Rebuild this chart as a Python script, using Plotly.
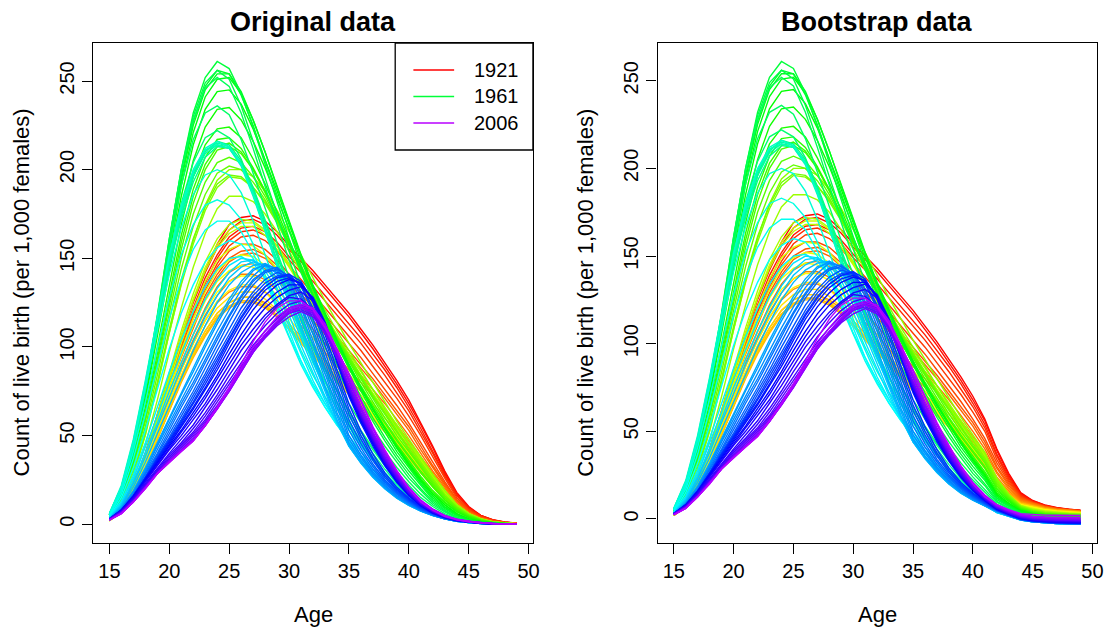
import colorsys
import plotly.graph_objects as go

# ---------------- data ----------------
ages = list(range(15, 50))
years = list(range(1921, 2007))
y_ticks = [0, 50, 100, 150, 200, 250]
x_ticks = [15, 20, 25, 30, 35, 40, 45, 50]
legend_years = [1921, 1961, 2006]

# Count of live birth per 1,000 females, ages 15..49, one row per year
rates_1920s = [
    [3,9,22,40,62,85,106,126,143,158,169,173,174,171,165,157,150,143,135,127,119,110,101,91,81,70,57,44,30,18,10,5,2.6,1.3,0.6],
    [3,9,22,40,61,84,105,125,142,156,166,171,172,169,163,155,148,141,133,125,117,108,99,89,79,68,56,43,29,17,9.5,5,2.5,1.2,0.6],
    [3,9,21,39,60,82,103,122,139,152,162,167,168,165,159,151,144,137,129,121,113,105,96,87,77,66,54,41,28,17,9,4.8,2.4,1.2,0.6],
    [3,9,21,39,59,81,101,120,136,150,160,165,166,163,157,149,142,134,126,118,110,102,93,84,74,64,52,40,27,16,9,4.6,2.3,1.1,0.5],
    [3,9,21,38,58,80,99,118,134,147,157,162,163,160,154,146,138,130,122,114,106,98,89,80,71,61,50,38,26,15,8.5,4.4,2.2,1.1,0.5],
    [3,9,21,38,58,79,98,116,132,145,154,158,158,155,149,141,134,126,118,110,102,94,85,76,67,57,46,35,24,14,8,4,2,1,0.5],
    [3,9,21,37,57,77,96,113,129,141,150,154,155,152,146,138,130,122,114,106,98,90,82,73,64,55,44,33,23,13.5,7.5,3.8,1.9,0.9,0.4],
    [3,9,20,37,56,76,94,111,127,139,148,152,153,150,144,136,128,120,112,104,96,88,80,71,62,53,42,32,22,13,7,3.7,1.8,0.9,0.4],
    [3,8,20,36,54,73,91,107,122,134,142,146,147,144,138,131,123,115,107,99,92,84,76,68,59,50,40,30,21,12,6.8,3.5,1.7,0.8,0.4],
]
rates_1930s = [
    [2.8,8,19,35,53,71,89,104,118,129,137,141,141,138,132,125,118,110,102,95,87,80,72,64,56,47,38,29,20,12,6.5,3.3,1.6,0.8,0.4],
    [2.5,8,19,34,52,70,87,102,115,125,131,134,134,131,126,119,112,105,97,89,82,75,68,60,52,44,35,26,18,11,6,3,1.5,0.7,0.3],
    [2.3,7.5,18,32,50,67,83,97,109,119,125,128,128,125,120,113,106,99,92,85,78,71,64,57,49,41,33,25,17,10,5.5,2.8,1.4,0.7,0.3],
    [2.2,7,17,31,48,65,81,95,107,117,123,126,126,123,118,111,104,97,90,83,76,69,62,55,48,40,32,24,16,9.5,5.2,2.6,1.3,0.6,0.3],
    [2,7,17,31,48,64,80,94,106,116,122,125,125,122,117,110,103,96,89,82,75,68,61,54,47,39,31,23,15.5,9,5,2.5,1.2,0.6,0.3],
    [2,7,17,31,48,65,81,95,107,117,123,126,126,123,117,110,102,95,88,81,74,67,60,53,46,38,30,22,15,8.8,4.8,2.4,1.2,0.6,0.3],
    [2,7,17,32,49,66,82,96,109,119,125,128,128,124,118,111,103,95,88,80,73,66,59,52,45,37,29,22,14.5,8.5,4.6,2.3,1.1,0.5,0.2],
    [2,7.5,18,33,50,68,84,99,112,122,128,131,131,127,121,113,105,97,89,81,74,67,60,53,45,37,29,21,14,8.3,4.5,2.3,1.1,0.5,0.2],
    [2,7.5,18,34,52,70,87,102,115,126,132,135,135,131,124,116,108,99,91,83,75,68,61,54,46,38,30,22,14.5,8.5,4.5,2.3,1.1,0.5,0.2],
    [2,8,19,35,54,73,91,107,120,131,137,140,140,136,129,120,111,102,93,85,77,70,62,55,48,40,32,24,16,9,5,2.5,1.2,0.5,0.2],
]
rates_1940s = [
    [2,8,19,36,56,76,95,112,126,137,143,146,145,140,133,124,114,105,96,87,79,71,63,56,48,40,32,24,16,9.2,5,2.5,1.2,0.5,0.2],
    [2,8,20,37,57,78,98,116,131,143,149,152,151,146,138,128,118,108,99,90,81,73,65,57,49,41,33,25,17,9.5,5.2,2.6,1.2,0.5,0.2],
    [2,8,20,38,58,80,102,121,137,149,155,158,157,152,144,134,124,114,104,94,85,76,68,60,51,43,34,26,17,10,5.4,2.7,1.2,0.5,0.2],
    [2,9,21,39,60,83,106,127,145,158,166,170,170,165,157,146,135,124,113,103,93,83,73,63,54,45,36,27,18,11,6,3,1.3,0.6,0.2],
    [2,9,21,39,60,83,105,126,143,156,164,168,168,163,155,145,134,123,112,102,92,82,72,63,54,45,36,27,18,11,6,3,1.3,0.6,0.2],
    [2,9,22,40,62,86,109,130,148,161,169,172,171,166,157,147,136,125,114,104,94,84,74,64,55,46,37,28,19,11,6,3,1.3,0.6,0.2],
    [2.5,10,25,45,70,97,122,145,164,178,185,185,182,175,165,154,142,130,118,107,96,86,76,66,56,46,37,28,19,11,6,3,1.3,0.6,0.2],
    [3,12,28,50,78,108,136,160,180,194,200,200,196,188,177,165,152,139,126,114,102,91,80,69,58,48,38,28,19,11,6,3,1.3,0.6,0.2],
    [3,12,28,51,79,108,135,158,177,190,196,195,190,182,171,159,146,133,121,109,98,87,76,65,55,45,35,26,17,10,5.5,2.8,1.2,0.5,0.2],
    [3,12,29,52,80,110,138,161,179,192,197,196,190,181,170,157,144,131,118,106,95,84,73,63,53,43,34,25,16,9.8,5.3,2.7,1.2,0.5,0.2],
]
rates_1950s = [
    [3.5,13,31,55,84,115,144,168,186,198,202,200,193,183,171,157,143,130,117,105,94,83,72,62,52,42,33,24,16,9.5,5.2,2.6,1.1,0.5,0.2],
    [4,14,33,58,88,120,150,175,193,204,207,204,196,185,172,158,144,130,117,105,93,82,71,60,50,41,32,23,15,9,5,2.5,1.1,0.5,0.2],
    [4,14,34,60,91,124,155,181,200,211,213,209,200,188,174,159,145,131,117,104,92,80,69,58,48,39,30,22,14,8.5,4.6,2.3,1,0.4,0.2],
    [4,15,35,61,93,127,159,185,203,213,215,210,200,187,173,158,143,129,115,102,90,78,67,57,47,38,29,21,13.5,8,4.4,2.2,1,0.4,0.2],
    [4.5,15,36,63,96,130,163,189,207,217,218,212,201,188,173,157,142,128,114,101,89,77,66,55,45,36,27,19,12.5,7.5,4,2,0.9,0.4,0.1],
    [4.5,16,38,66,100,135,169,196,214,223,224,218,206,192,176,160,144,129,115,101,88,76,65,54,44,35,26,18,12,7,3.7,1.8,0.8,0.3,0.1],
    [5,17,40,70,106,143,177,205,224,234,235,228,216,201,184,166,149,133,117,102,89,77,65,54,44,34,25,17,11,6,3,1.5,0.7,0.3,0.1],
    [5,17,41,72,110,149,185,214,234,244,245,237,223,206,188,169,151,134,118,103,90,77,65,54,43,34,25,17,11,6,3,1.5,0.7,0.3,0.1],
    [5,18,41,74,113,153,191,221,241,251,252,243,228,210,191,171,152,135,119,104,90,77,65,54,43,33,24,16,10,5.5,2.8,1.4,0.6,0.3,0.1],
    [5,18,42,75,114,156,194,225,245,254,254,244,228,210,190,170,151,133,117,102,88,75,63,52,41,32,23,15,9.5,5.2,2.6,1.3,0.6,0.2,0.1],
]
rates_1960s = [
    [5,18,42,75,115,157,196,227,247,256,254,242,225,205,185,165,146,129,113,98,85,72,60,49,39,30,22,14,8.8,4.8,2.4,1.2,0.5,0.2,0.1],
    [5,18,42,76,115,160,200,232,252,261,257,243,224,203,182,161,142,125,109,95,82,70,58,47,37,28,20,13,8,4,2,1,0.5,0.2,0.1],
    [5,18,43,77,117,161,200,230,249,256,251,236,216,195,174,154,135,119,104,90,77,65,54,44,35,26,19,12,7.5,3.8,1.9,0.9,0.4,0.2,0.1],
    [5,19,44,78,118,161,199,228,246,252,247,232,212,190,169,149,131,115,100,87,74,62,51,41,32,24,17,11,7,3.5,1.7,0.8,0.4,0.2,0.1],
    [5,19,44,78,116,156,191,217,232,236,231,217,198,178,158,139,122,107,93,80,68,57,47,37,29,22,15,10,6,3.1,1.5,0.7,0.3,0.1,0.05],
    [5,19,43,76,113,150,181,204,218,222,218,206,189,170,151,133,116,101,88,76,64,53,43,34,26,19,13,8.5,5.3,2.8,1.3,0.6,0.3,0.1,0.05],
    [5,19,43,76,112,146,174,196,210,216,214,205,190,172,153,135,117,101,87,75,63,52,42,33,25,18,12,8,5,2.5,1.2,0.6,0.3,0.1,0.05],
    [5,19,43,76,112,145,172,193,207,213,212,204,189,171,152,133,115,99,85,72,61,50,40,31,23,17,11,7.5,4.6,2.3,1.1,0.5,0.3,0.1,0.05],
    [5,20,45,78,114,148,175,196,209,214,212,203,187,168,148,129,111,95,81,69,58,47,38,29,22,15.5,10.5,7,4.2,2.1,1,0.5,0.2,0.1,0.05],
    [6,21,46,79,115,150,177,198,211,215,213,203,187,167,147,128,110,94,80,68,57,46,37,28,21,15,10,6.5,4,2,0.9,0.45,0.2,0.1,0.05],
]
rates_1970s = [
    [6,21,47,80,116,151,178,199,211,214,212,202,185,165,145,126,108,92,78,66,56,46,37,28,20.5,14.8,9.7,6.3,3.9,2,0.9,0.4,0.2,0.1,0.05],
    [6,22,48,81,117,152,180,200,212,216,213,203,186,166,145,125,107,91,77,65,55,45,36,27.5,20.2,14.5,9.5,6.2,3.8,1.9,0.85,0.4,0.2,0.1,0.05],
    [6,21,45,76,109,141,167,186,197,200,197,187,171,152,133,114,98,84,72,62,53,44,36,28,21,15,10,6.5,4,2.2,1.1,0.5,0.25,0.12,0.05],
    [5,19,41,69,99,128,152,169,180,183,180,172,158,141,123,106,92,79,68,58,50,41,33,26,19.5,14,9.5,6.2,3.8,2.1,1.1,0.5,0.25,0.1,0.05],
    [5,17,37,62,89,116,138,155,166,171,171,165,153,138,121,105,90,77,66,56,48,39,31,24.5,18.5,13.3,9,5.9,3.6,2,1,0.5,0.24,0.1,0.05],
    [4,15,32,53,76,99,119,135,148,156,160,158,150,138,124,109,92,78,66,56,47,38.5,30.5,24,18,13,8.8,5.8,3.5,2,1,0.5,0.24,0.1,0.05],
    [4,13,28,46,66,86,104,120,134,144,150,151,147,139,127,112,96,81,68,57,46,37.5,29.5,23,17.2,12.5,8.5,5.6,3.4,1.9,1,0.5,0.23,0.1,0.05],
    [3.5,12,26,43,61,80,97,113,127,138,146,150,149,143,132,118,101,85,70,57,45,36,28,21.5,16,11.6,8,5.3,3.2,1.8,1,0.45,0.22,0.1,0.04],
    [3.3,11,24,40,57,75,91,107,121,133,142,148,149,145,136,122,105,88,72,57,44,35,27,20.5,15,11,7.6,5,3,1.7,0.9,0.42,0.2,0.1,0.04],
    [3.2,10.5,23,38,55,72,88,103,117,129,139,145,148,146,139,126,109,91,74,58,44,34.5,26.5,20,14.7,10.7,7.4,4.9,3,1.7,0.9,0.42,0.2,0.1,0.04],
]
rates_1980s = [
    [3.1,10,21,35,51,67,83,98,112,125,135,142,146,147,141,129,112,94,76,59,44,34.5,26.5,20,14.7,10.7,7.4,4.9,3,1.7,0.9,0.42,0.2,0.1,0.04],
    [3,9,19,32,46,60,74,88,102,115,127,137,144,146,142,131,115,97,78,61,45,35,27,20.3,15,10.8,7.5,5,3,1.7,0.9,0.43,0.2,0.1,0.04],
    [3,9,18.5,31,45,59,73,86,100,113,125,135,143,147,144,134,119,101,82,63,46,36,27.5,20.6,15.2,11,7.6,5,3,1.7,0.9,0.44,0.2,0.1,0.04],
    [2.9,8.8,18,30,44,57,70,83,96,109,121,132,140,146,144,136,122,104,85,66,48,37.5,28.5,21.3,15.6,11.3,7.8,5.1,3.1,1.75,0.95,0.46,0.22,0.1,0.04],
    [2.8,8.5,17,29,42,55,68,80,93,106,118,129,138,143,143,137,124,107,88,69,50,39,29.5,22,16.2,11.7,8,5.2,3.1,1.75,0.95,0.46,0.22,0.1,0.04],
    [2.6,8.2,16.5,28,40,53,66,78,91,104,117,128,137,143,145,139,127,110,91,72,53,41,31,23,17,12.2,8.3,5.4,3.2,1.8,1,0.47,0.22,0.1,0.04],
    [2.5,8,16,27,39,51,63,75,88,101,114,126,135,142,144,140,129,113,94,75,56,43,32.5,24,17.7,12.7,8.6,5.6,3.3,1.85,1,0.48,0.23,0.1,0.04],
    [2.5,7.8,15.5,26,38,49,61,73,85,98,110,122,131,138,142,140,131,116,97,78,59,45.5,34,25,18.3,13.2,9,5.8,3.4,1.9,1.05,0.5,0.24,0.1,0.04],
    [2.6,7.8,15.5,26,37,48,59,71,83,95,107,119,129,136,140,141,134,120,101,81,62,48,36,26.3,19,13.7,9.3,6,3.5,2,1.05,0.5,0.24,0.1,0.04],
    [2.7,7.9,15.8,26,37,47,58,69,81,93,105,117,127,134,139,140,135,122,104,84,65,50,37.5,27.5,19.8,14.2,9.6,6.2,3.6,2,1.1,0.52,0.25,0.11,0.04],
]
rates_1990s = [
    [2.8,8,16,26,37,47,57,68,79,91,104,116,126,134,139,141,137,125,107,87,68,52.5,39.5,29,20.8,14.8,9.9,6.3,3.7,2.05,1.1,0.55,0.26,0.11,0.04],
    [3,8,16,26,36,46,56,66,77,89,102,114,124,132,137,139,136,126,110,91,72,57,44,33,23.5,16,10.3,6.3,3.7,2.1,1.15,0.6,0.27,0.12,0.05],
    [3,8,16,25.5,35.5,45,55,65,76,87,99,111,121,129,135,138,136,127,112,93,73,58,45,33.5,24,16.3,10.5,6.4,3.8,2.1,1.2,0.6,0.28,0.12,0.05],
    [3,8,15.5,25,35,44,53,63,73,84,96,107,117,125,131,135,135,127,112,94,74,59,46,34,24.5,16.6,10.7,6.5,3.9,2.2,1.2,0.62,0.29,0.12,0.05],
    [3,7.8,15.2,24.5,34,43,52,61,71,82,93,104,114,122,128,132,134,128,114,95,75,60,46.5,34.5,25,17,11,6.7,4,2.3,1.25,0.64,0.3,0.13,0.05],
    [3,7.6,15,24,33,42,50,59,68,79,90,101,110,118,124,129,131,126,113,95,75,60,47,35,25.3,17.2,11.1,6.8,4,2.3,1.3,0.66,0.3,0.13,0.05],
    [3,7.4,14.5,23,32,40,48,56,66,76,87,98,107,116,123,128,127,121,109,93,75,60,47,35,25.5,17.3,11.2,6.9,4.1,2.3,1.3,0.68,0.32,0.14,0.06],
    [2.9,7.2,14,22.5,31,39,46,54,63,73,84,94,104,112,119,124,126,121,110,94,76,61,48,36,26,17.7,11.5,7.1,4.2,2.4,1.35,0.7,0.33,0.14,0.06],
    [2.8,7,13.7,22,30,38,45,52,61,71,81,91,101,109,116,122,124,120,109,94,77,62,48.5,36.5,26.5,18,11.8,7.3,4.3,2.5,1.4,0.72,0.34,0.15,0.06],
    [2.7,6.8,13.4,21.5,29.5,37,44,51,59,69,79,89,99,107,114,120,123,119,109,94,77,62,49,37,27,18.4,12,7.4,4.4,2.5,1.4,0.74,0.35,0.15,0.06],
]
rates_2000s = [
    [2.6,6.6,13.2,21,29,36,43,50,58,67,77,88,98,106,113,119,121,118,108,94,78,63,49.5,37.5,27.5,18.8,12.2,7.6,4.5,2.6,1.45,0.76,0.35,0.15,0.06],
    [2.5,6.5,13,21,29,36,42,49,57,66,76,87,97,105,112,117,120,117,108,94,78,63,50,38,28,19.2,12.5,7.8,4.6,2.6,1.5,0.78,0.36,0.16,0.07],
    [2.5,6.4,12.9,20.8,28.8,35.7,41.5,48,56,65,75,86,97,106,113,119,122,119,110,96,80,64.5,51,39,28.7,19.7,12.8,8,4.7,2.7,1.55,0.8,0.37,0.16,0.07],
    [2.4,6.2,12.7,20.5,28.6,35.4,41.2,47.5,55.5,65,75,86,97,106,114,120,122,120,111,97,81,65.5,52,40,29.3,20.1,13.1,8.2,4.8,2.75,1.6,0.82,0.38,0.17,0.07],
    [2.4,6.1,12.6,20.3,28.5,35.2,41,47.2,55.5,65,75.5,87,98,107,115,121,123,121,112,98,83,67,53.5,41,30,20.6,13.4,8.4,4.9,2.8,1.65,0.85,0.4,0.18,0.08],
    [2.3,6,12.6,20.1,28.5,35,41,47,55.5,65.5,76,88,100,109,117,122,124,122,113,99,84,68.5,54.5,41.5,30.3,20.8,13.6,8.5,5,2.9,1.7,0.87,0.41,0.19,0.08],
    [2.3,6,12.6,20,28.6,35,41,47,56,66,77,90,103,114,122,126,126,121,111,98,85,70,55,42,30,20,12.6,7.9,4.5,2.6,1.4,0.8,0.4,0.2,0.1],
]

# Bootstrap panel: curves match the original ones up to age 41; ages 42..49 read separately
boot_tail_ages = list(range(42, 50))
boot_tails_1920s = [
    [40,26,15,10.5,8,6.5,5.5,5], [39,25,14.5,10.3,7.8,6.3,5.4,4.9], [37,24,14,10,7.6,6.2,5.3,4.8],
    [36,23,13.5,9.8,7.5,6.1,5.2,4.7], [34,22,13,9.6,7.4,6,5.1,4.7], [32,21,12.5,9.4,7.2,5.9,5,4.6],
    [30,20,12,9.2,7.1,5.8,5,4.6], [29,19,11.5,9,7,5.7,4.9,4.5], [27,18,11,8.8,6.8,5.6,4.8,4.4],
]
boot_tails_1930s = [
    [26,17,10.5,8.5,6.6,5.5,4.7,4.3], [24,16,10,8.2,6.4,5.3,4.6,4.2], [23,15,9.5,8,6.2,5.2,4.5,4.1],
    [22,14.5,9.2,7.7,6,5,4.3,4], [21,14,9,7.5,5.8,4.9,4.2,3.9], [20,13.5,8.8,7.3,5.7,4.8,4.1,3.8],
    [20,13,8.5,7,5.5,4.6,4,3.7], [19,12.5,8.2,6.8,5.3,4.5,3.9,3.6], [19,12,8,6.6,5.2,4.4,3.8,3.5],
    [20,12.5,8,6.5,5.1,4.3,3.7,3.4],
]
boot_tails_1940s = [
    [20,12.5,7.8,6.3,5,4.2,3.6,3.3], [21,13,7.8,6.2,4.9,4.1,3.5,3.2], [21,13,7.7,6,4.7,3.9,3.4,3.1],
    [22,13.5,7.6,5.8,4.5,3.8,3.3,3], [22,13.5,7.5,5.6,4.4,3.7,3.2,2.9], [23,14,7.5,5.5,4.3,3.6,3.1,2.8],
    [23,14,7.4,5.3,4.1,3.4,3,2.7], [23,14,7.3,5.1,3.9,3.3,2.9,2.6], [22,13.5,7,4.9,3.7,3.1,2.7,2.5],
    [21,13,6.8,4.7,3.5,2.9,2.6,2.4],
]
boot_tails_1950s = [
    [20,12.5,6.5,4.5,3.3,2.8,2.5,2.3], [19,12,6.3,4.3,3.1,2.6,2.3,2.1], [18,11.5,6,4,2.9,2.4,2.1,2],
    [17,11,5.7,3.8,2.7,2.2,2,1.8], [16,10.5,5.4,3.5,2.5,2,1.8,1.6], [15,10,5.1,3.3,2.3,1.8,1.6,1.5],
    [14,9,4.8,3,2,1.6,1.4,1.3], [14,8.8,4.5,2.7,1.8,1.4,1.2,1.1], [13,8.3,4.2,2.5,1.6,1.2,1,0.9],
    [12,7.8,3.9,2.2,1.4,1,0.8,0.7],
]
boot_tails_1960s = [
    [12,7.4,3.6,2,1.2,0.8,0.6,0.5], [11,7,3.3,1.7,1,0.6,0.4,0.3], [10,6.5,3,1.5,0.8,0.4,0.2,0.1],
    [9.5,6,2.7,1.2,0.6,0.2,0,-0.1], [8.5,5.5,2.4,1,0.4,0,-0.2,-0.3], [7.5,5,2.1,0.8,0.2,-0.2,-0.4,-0.5],
    [7,4.5,1.8,0.6,0,-0.4,-0.6,-0.7], [6.5,4.1,1.5,0.4,-0.2,-0.6,-0.8,-0.9], [6,3.7,1.3,0.2,-0.4,-0.8,-1,-1.1],
    [5.5,3.3,1.1,0,-0.6,-1,-1.2,-1.3],
]
boot_tails_1970s = [
    [5.2,3,0.9,-0.2,-0.8,-1.2,-1.4,-1.5], [5,2.8,0.7,-0.4,-1,-1.4,-1.6,-1.7], [4.6,2.5,0.5,-0.6,-1.2,-1.6,-1.8,-1.9],
    [4.2,2.2,0.3,-0.8,-1.4,-1.8,-2,-2.1], [4,2,0.1,-1,-1.6,-2,-2.2,-2.3], [3.8,1.8,-0.1,-1.2,-1.8,-2.2,-2.4,-2.5],
    [3.6,1.6,-0.3,-1.4,-2,-2.4,-2.6,-2.7], [3.6,1.5,-0.5,-1.6,-2.2,-2.6,-2.8,-2.9], [3.7,1.5,-0.6,-1.7,-2.3,-2.7,-2.9,-3],
    [3.8,1.5,-0.6,-1.7,-2.3,-2.7,-2.9,-3],
]
boot_tails_1980s = [
    [4,1.6,-0.6,-1.7,-2.3,-2.7,-2.9,-3], [4.2,1.7,-0.5,-1.6,-2.2,-2.6,-2.8,-2.9], [4.3,1.8,-0.5,-1.6,-2.2,-2.6,-2.8,-2.9],
    [4.5,1.9,-0.4,-1.5,-2.1,-2.5,-2.7,-2.8], [4.6,2,-0.4,-1.5,-2.1,-2.5,-2.7,-2.8], [4.7,2,-0.3,-1.4,-2,-2.4,-2.6,-2.7],
    [4.8,2.1,-0.3,-1.4,-2,-2.4,-2.6,-2.7], [4.9,2.2,-0.2,-1.3,-1.9,-2.3,-2.5,-2.6], [5,2.3,-0.2,-1.3,-1.9,-2.3,-2.5,-2.6],
    [5.2,2.4,-0.1,-1.2,-1.8,-2.2,-2.4,-2.5],
]
boot_tails_1990s = [
    [5.3,2.5,0,-1.1,-1.7,-2.1,-2.3,-2.4], [5.5,2.6,0.1,-1,-1.6,-2,-2.2,-2.3], [5.6,2.7,0.2,-0.9,-1.5,-1.9,-2.1,-2.2],
    [5.8,2.8,0.3,-0.8,-1.4,-1.8,-2,-2.1], [5.9,2.9,0.4,-0.7,-1.3,-1.7,-1.9,-2], [6,3,0.5,-0.6,-1.2,-1.6,-1.8,-1.9],
    [6.2,3.2,0.7,-0.4,-1,-1.3,-1.5,-1.6], [6.4,3.4,0.9,-0.2,-0.8,-1.1,-1.3,-1.4], [6.6,3.6,1.1,0,-0.6,-0.9,-1.1,-1.2],
    [6.8,3.8,1.3,0.2,-0.4,-0.7,-0.9,-1],
]
boot_tails_2000s = [
    [7,4,1.5,0.4,-0.2,-0.5,-0.7,-0.8], [7.2,4.2,1.7,0.6,0,-0.3,-0.5,-0.6], [7.4,4.4,1.9,0.8,0.3,0,-0.2,-0.3],
    [7.6,4.6,2.1,1,0.5,0.3,0.2,0.1], [7.8,4.8,2.3,1.3,0.8,0.6,0.5,0.4], [8,5,2.5,1.6,1.2,1,0.9,0.8],
    [8.2,5.3,3,2.4,2.2,2.1,2,2],
]

original = (rates_1920s + rates_1930s + rates_1940s + rates_1950s + rates_1960s
            + rates_1970s + rates_1980s + rates_1990s + rates_2000s)
boot_tails = (boot_tails_1920s + boot_tails_1930s + boot_tails_1940s + boot_tails_1950s
              + boot_tails_1960s + boot_tails_1970s + boot_tails_1980s + boot_tails_1990s
              + boot_tails_2000s)
assert len(original) == len(years) == len(boot_tails)
for r in original:
    assert len(r) == len(ages), len(r)
n_keep = boot_tail_ages[0] - ages[0]
bootstrap = [row[:n_keep] + tail for row, tail in zip(original, boot_tails)]

# ---------------- style ----------------
W, H = 1115, 629
FONT = "Liberation Sans, Arial, Helvetica, sans-serif"
TICK = 20
LAB = 22
n = len(years)


def rainbow_color(i):
    # R rainbow(n*1.25), first n colours
    m = 108
    h = i * (106.5 / 107.5) / (m - 1)
    r, g, b = colorsys.hsv_to_rgb(h, 1, 1)
    return f"rgb({round(r*255)},{round(g*255)},{round(b*255)})"


colors = [rainbow_color(i) for i in range(n)]


def px_x(x):
    return x / W


def px_y(y):
    return 1 - y / H


panels = [
    dict(data=original, xa="x", ya="y", x0=93.7, x1=536.3, title="Original data"),
    dict(data=bootstrap, xa="x2", ya="y2", x0=661.7, x1=1103.7, title="Bootstrap data"),
]
plot_top, plot_bot = 43.0, 542.7

fig = go.Figure()
for p in panels:
    for i, row in enumerate(p["data"]):
        fig.add_trace(go.Scatter(
            x=ages, y=row, mode="lines", xaxis=p["xa"], yaxis=p["ya"],
            line=dict(color=colors[i], width=1.4), showlegend=False, hoverinfo="skip",
        ))

layout = dict(
    width=W, height=H, margin=dict(l=0, r=0, t=0, b=0),
    paper_bgcolor="white", plot_bgcolor="white",
    font=dict(family=FONT, size=TICK, color="black"),
    showlegend=False,
)

annotations = []
shapes = []
for k, p in enumerate(panels):
    vals = [v for row in p["data"] for v in row]
    lo, hi = min(vals), max(vals)
    pad = 0.04 * (hi - lo)
    xpad = 0.04 * (ages[-1] - ages[0])
    sfx = "" if k == 0 else "2"
    common = dict(
        showline=True, mirror=True, linecolor="black", linewidth=1.3,
        ticks="outside", ticklen=10, tickwidth=1.3, tickcolor="black",
        showgrid=False, zeroline=False,
        tickfont=dict(family=FONT, size=TICK, color="black"),
    )
    layout["xaxis" + sfx] = dict(
        domain=[px_x(p["x0"]), px_x(p["x1"])], anchor="y" + sfx,
        range=[ages[0] - xpad, ages[-1] + xpad], tickmode="array", tickvals=x_ticks,
        **common,
    )
    layout["yaxis" + sfx] = dict(
        domain=[px_y(plot_bot), px_y(plot_top)], anchor="x" + sfx,
        range=[lo - pad, hi + pad], tickmode="array", tickvals=y_ticks, tickangle=-90,
        **common,
    )
    cx = (p["x0"] + p["x1"]) / 2
    annotations.append(dict(
        text="<b>" + p["title"] + "</b>", x=px_x(cx), y=px_y(22), xref="paper", yref="paper",
        showarrow=False, xanchor="center", yanchor="middle", font=dict(size=27, family=FONT),
    ))
    annotations.append(dict(
        text="Age", x=px_x(cx), y=px_y(614), xref="paper", yref="paper",
        showarrow=False, xanchor="center", yanchor="middle", font=dict(size=LAB, family=FONT),
    ))
    annotations.append(dict(
        text="Count of live birth (per 1,000 females)", x=px_x(p["x0"] - 72), y=px_y((plot_top + plot_bot) / 2),
        xref="paper", yref="paper", showarrow=False, textangle=-90,
        xanchor="center", yanchor="middle", font=dict(size=LAB, family=FONT),
    ))

# legend (left panel, top right)
shapes.append(dict(type="rect", xref="paper", yref="paper",
                   x0=px_x(397.7), x1=px_x(536.3), y0=px_y(150), y1=px_y(43),
                   line=dict(color="black", width=1.3), fillcolor="white", layer="above"))
for j, yr in enumerate(legend_years):
    ypix = 70 + j * 26.5
    c = colors[years.index(yr)]
    shapes.append(dict(type="line", xref="paper", yref="paper",
                       x0=px_x(416), x1=px_x(457), y0=px_y(ypix), y1=px_y(ypix),
                       line=dict(color=c, width=1.4), layer="above"))
    annotations.append(dict(text=str(yr), x=px_x(475), y=px_y(ypix), xref="paper", yref="paper",
                            showarrow=False, xanchor="left", yanchor="middle",
                            font=dict(size=TICK, family=FONT)))

layout["annotations"] = annotations
layout["shapes"] = shapes
fig.update_layout(**layout)

fig.write_html("out.html", config={"displayModeBar": False},
               post_script="document.body.style.margin='0';document.body.style.padding='0';")
